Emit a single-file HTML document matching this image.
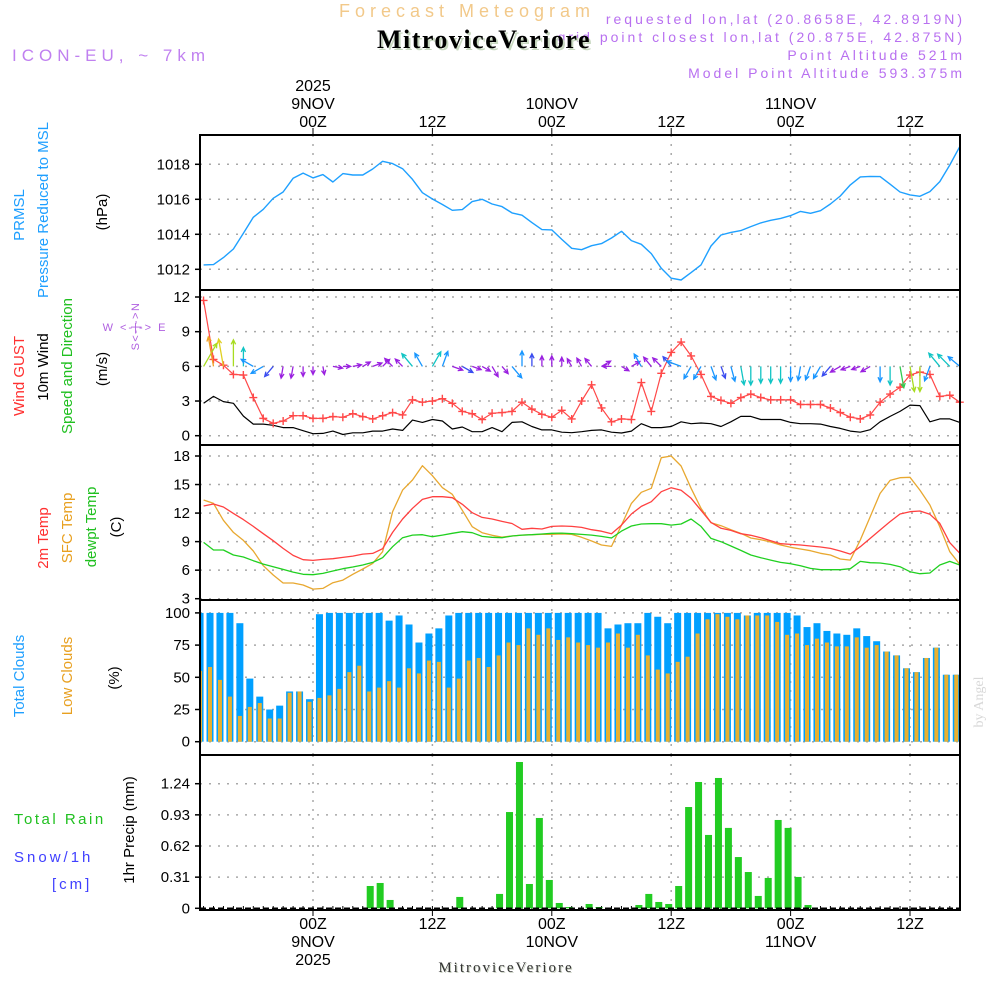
<!DOCTYPE html>
<html><head><meta charset="utf-8">
<style>
html,body{margin:0;padding:0;background:#fff;}
svg{display:block;}
text{font-family:"Liberation Sans",sans-serif;}
</style></head>
<body>
<svg id="chart" width="1000" height="1000" viewBox="0 0 1000 1000" xmlns="http://www.w3.org/2000/svg">
<rect x="0" y="0" width="1000" height="1000" fill="#fff"/>
<!-- header -->
<text x="467" y="17" font-size="18" fill="#f2c98a" text-anchor="middle" letter-spacing="5">Forecast Meteogram</text>
<text x="965" y="24" font-size="14" fill="#b870f0" text-anchor="end" letter-spacing="3">requested lon,lat (20.8658E, 42.8919N)</text>
<text x="965" y="42" font-size="14" fill="#b870f0" text-anchor="end" letter-spacing="3">grid point closest lon,lat (20.875E, 42.875N)</text>
<text x="965" y="60" font-size="14" fill="#b870f0" text-anchor="end" letter-spacing="3">Point Altitude 521m</text>
<text x="965" y="78" font-size="14" fill="#b870f0" text-anchor="end" letter-spacing="3">Model Point Altitude 593.375m</text>
<text x="486" y="50" font-size="26" font-weight="bold" fill="#c8d8c0" text-anchor="middle" letter-spacing="1.5" style="font-family:'Liberation Serif',serif">MitroviceVeriore</text>
<text x="484" y="48" font-size="26" font-weight="bold" fill="#000" text-anchor="middle" letter-spacing="1.5" style="font-family:'Liberation Serif',serif">MitroviceVeriore</text>
<text x="12" y="61" font-size="17" fill="#c080f0" letter-spacing="5">ICON-EU, ~ 7km</text>

<!-- left panel titles -->
<g font-size="15">
<text transform="translate(24,215) rotate(-90)" text-anchor="middle" fill="#1e9fff">PRMSL</text>
<text transform="translate(48,210) rotate(-90)" text-anchor="middle" fill="#1e9fff">Pressure Reduced to MSL</text>
<text transform="translate(107,212) rotate(-90)" text-anchor="middle" fill="#000">(hPa)</text>
</g>
<g font-size="15">
<text transform="translate(24,376) rotate(-90)" text-anchor="middle" fill="#ff3030">Wind GUST</text>
<text transform="translate(48,367) rotate(-90)" text-anchor="middle" fill="#000">10m Wind</text>
<text transform="translate(72,366) rotate(-90)" text-anchor="middle" fill="#20c020">Speed and Direction</text>
<text transform="translate(107,369) rotate(-90)" text-anchor="middle" fill="#000">(m/s)</text>
<text x="135" y="331" font-size="11" fill="#b060e0" text-anchor="middle" letter-spacing="2">W &lt;-|-&gt; E</text>
<text transform="translate(139,326) rotate(-90)" font-size="11" fill="#b060e0" text-anchor="middle" letter-spacing="1.5">S&lt;-|-&gt;N</text>
</g>
<g font-size="15">
<text transform="translate(48,538) rotate(-90)" text-anchor="middle" fill="#ff3030">2m Temp</text>
<text transform="translate(72,528) rotate(-90)" text-anchor="middle" fill="#e8a020">SFC Temp</text>
<text transform="translate(96,527) rotate(-90)" text-anchor="middle" fill="#20c020">dewpt Temp</text>
<text transform="translate(121,527) rotate(-90)" text-anchor="middle" fill="#000">(C)</text>
</g>
<g font-size="15">
<text transform="translate(24,676) rotate(-90)" text-anchor="middle" fill="#1e9fff">Total Clouds</text>
<text transform="translate(72,676) rotate(-90)" text-anchor="middle" fill="#e8a020">Low Clouds</text>
<text transform="translate(119,678) rotate(-90)" text-anchor="middle" fill="#000">(%)</text>
</g>
<g font-size="15">
<text x="14" y="824" fill="#20c020" letter-spacing="2.5">Total   Rain</text>
<text x="14" y="862" fill="#4040ff" letter-spacing="3">Snow/1h</text>
<text x="52" y="889" fill="#4040ff" letter-spacing="3">[cm]</text>
<text transform="translate(134,830) rotate(-90)" text-anchor="middle" fill="#000">1hr Precip (mm)</text>
</g>
<text transform="translate(983,702) rotate(-90)" font-size="14" fill="#d8d8d8" text-anchor="middle" style="font-family:'Liberation Serif',serif">by Angel</text>
<text x="507" y="973" font-size="15" fill="#c8d0c0" text-anchor="middle" letter-spacing="2" style="font-family:'Liberation Serif',serif">MitroviceVeriore</text>
<text x="506" y="972" font-size="15" fill="#333" text-anchor="middle" letter-spacing="2" style="font-family:'Liberation Serif',serif">MitroviceVeriore</text>
<g id="dyn"></g>
</svg>
<script>
// ---- data (hourly, hours -11 .. 65 relative to 00Z 9NOV 2025) ----
const timeTickHours = [0, 12, 24, 36, 48, 60];
const timeTickLabels = ["00Z", "12Z", "00Z", "12Z", "00Z", "12Z"];
const dayLabels = ["9NOV", "", "10NOV", "", "11NOV", ""];
const pressure = [1012.25,1012.27,1012.67,1013.16,1014.06,1014.97,1015.43,1016.06,1016.42,1017.2,1017.5,1017.22,1017.41,1016.99,1017.47,1017.39,1017.39,1017.73,1018.17,1018.04,1017.75,1017.14,1016.38,1016.02,1015.7,1015.37,1015.41,1015.87,1016.0,1015.73,1015.58,1015.22,1015.09,1014.67,1014.27,1014.25,1013.71,1013.2,1013.12,1013.35,1013.47,1013.79,1014.17,1013.64,1013.43,1012.9,1012.06,1011.49,1011.39,1011.81,1012.25,1013.33,1013.96,1014.11,1014.21,1014.44,1014.65,1014.8,1014.91,1015.07,1015.31,1015.2,1015.35,1015.73,1016.19,1016.82,1017.28,1017.31,1017.3,1016.86,1016.42,1016.25,1016.17,1016.44,1017.01,1017.96,1019.01];
const pressureTicks = [1012, 1014, 1016, 1018];
const windGust = [11.7,6.6,6.1,5.3,5.25,3.3,1.5,1.07,1.27,1.73,1.73,1.5,1.5,1.65,1.6,1.9,1.65,1.45,1.73,2.0,1.8,3.1,2.9,3.0,3.2,2.8,2.1,1.9,1.4,1.95,2.0,2.1,2.9,2.3,1.85,1.6,2.2,1.45,3.0,4.4,2.4,1.2,1.45,1.4,4.6,2.1,5.4,7.2,8.1,6.9,5.3,3.4,3.06,2.8,3.3,3.6,3.3,3.1,3.1,3.1,2.7,2.7,2.7,2.4,2.0,1.6,1.45,1.8,2.9,3.6,4.2,5.25,5.5,5.3,3.4,3.5,2.9];
const windSpeed = [2.8,3.4,2.95,2.8,1.7,1.0,1.0,0.9,0.7,0.7,0.43,0.17,0.2,0.4,0.1,0.25,0.25,0.4,0.4,0.58,0.46,1.35,1.15,1.4,1.27,0.58,0.75,0.35,0.35,0.7,0.35,1.15,1.2,0.8,0.5,0.5,0.3,0.26,0.35,0.46,0.5,0.3,0.23,0.4,1.04,0.7,0.7,0.8,1.2,1.04,1.1,1.04,0.8,1.2,1.67,1.67,1.4,1.4,1.4,1.15,1.04,1.04,1.0,0.8,0.63,0.4,0.3,0.52,1.2,1.67,2.1,2.65,2.6,1.2,1.45,1.45,1.15];
const windDir = [30,350,350,0,0,300,240,220,190,190,180,180,170,100,90,80,60,70,45,315,315,320,330,30,20,110,120,110,120,150,140,140,0,0,0,0,0,330,330,320,60,270,120,60,330,320,315,320,290,210,210,160,160,165,170,180,180,180,180,180,190,200,210,220,240,250,250,240,180,180,170,170,180,200,320,315,310];
const windTicks = [0, 3, 6, 9, 12];
const temp2m = [12.74,12.95,12.64,11.97,11.31,10.6,9.83,9.1,8.29,7.55,7.1,7.03,7.13,7.2,7.34,7.48,7.69,7.76,8.26,9.97,11.38,12.5,13.44,13.72,13.72,13.62,12.92,12.04,11.55,11.38,11.13,10.9,10.3,10.4,10.33,10.6,10.64,10.6,10.5,10.25,10.1,9.83,10.74,11.9,12.7,13.2,14.25,14.67,14.39,13.55,12.29,11.02,10.4,10.18,9.83,9.66,9.41,9.1,8.78,8.71,8.64,8.54,8.43,8.29,8.01,7.69,8.47,9.34,10.22,11.1,11.9,12.15,12.22,11.87,10.92,8.89,7.77];
const tempSfc = [13.37,13.02,11.24,9.97,9.13,8.01,6.47,5.49,4.65,4.65,4.44,4.01,4.08,4.68,4.96,5.56,6.12,6.71,7.94,12.15,14.42,15.48,16.98,15.93,14.67,13.97,12.29,10.57,9.94,9.66,9.48,9.59,9.69,9.73,9.76,9.76,9.8,9.76,9.45,9.06,8.64,8.5,10.74,13.02,14.18,14.6,17.82,18.0,16.95,14.6,12.5,10.99,10.67,10.25,9.87,9.38,9.2,8.96,8.64,8.4,8.22,8.05,7.77,7.59,7.17,7.06,9.17,11.62,14.07,15.44,15.72,15.76,14.42,12.85,10.57,7.94,6.61];
const dewpt = [8.92,8.12,8.12,7.59,7.38,6.99,6.64,6.36,6.08,5.8,5.56,5.52,5.66,5.91,6.15,6.33,6.54,6.82,7.31,8.47,9.41,9.69,9.73,9.52,9.69,9.87,10.04,9.94,9.55,9.45,9.41,9.59,9.69,9.73,9.8,9.87,9.9,9.83,9.76,9.69,9.55,9.38,10.11,10.64,10.85,10.88,10.88,10.74,10.85,11.38,10.6,9.34,8.99,8.54,8.08,7.59,7.31,7.06,6.82,6.68,6.47,6.19,6.05,6.05,6.05,6.15,6.92,6.78,6.75,6.61,6.36,5.84,5.63,5.7,6.54,6.92,6.54];
const tempTicks = [3, 6, 9, 12, 15, 18];
const cloudTotal = [100,100,100,100,92,49,35,25,28,39,39,33,99,100,100,100,100,100,100,94,98,91,77,84,88,98,100,100,100,100,100,100,100,100,100,100,100,100,100,100,100,88,91,92,92,100,97,92,100,100,100,100,100,100,100,98,100,100,100,100,98,89,92,86,84,83,88,82,78,70,67,57,54,65,73,52,52];
const cloudLow = [55,58,48,35,20,27,30,18,18,38,39,31,34,36,41,54,59,39,42,47,42,57,53,63,62,42,49,63,65,58,67,77,75,88,83,88,79,81,77,75,73,77,84,73,83,67,56,53,62,66,84,95,99,97,95,98,98,98,93,83,84,75,80,77,74,74,81,73,75,70,67,57,54,65,73,52,52];
const cloudTicks = [0, 25, 50, 75, 100];
const precip = [0,0,0,0,0,0,0,0,0,0,0,0,0,0,0,0,0,0.222,0.252,0.083,0,0,0,0,0,0,0.113,0,0,0,0.143,0.958,1.456,0.242,0.899,0.282,0.053,0.013,0,0.043,0.013,0,0,0,0.033,0.143,0.063,0.043,0.222,1.008,1.257,0.73,1.297,0.8,0.51,0.361,0.123,0.302,0.879,0.8,0.312,0.033,0,0,0,0,0,0,0,0,0,0,0,0,0,0,0];
const precipTicks = [0, 0.31, 0.62, 0.93, 1.24];
const precipTickLabels = ["0", "0.31", "0.62", "0.93", "1.24"];
const firstHour = -11;

// ---- scales ----
const X0 = 200, X1 = 960;
function xs(h){ return 313 + 9.95*h; }
function lin(d0,d1,r0,r1){ return v => r0 + (v-d0)*(r1-r0)/(d1-d0); }
const panels = {
  pres:{top:135,bot:290,y:lin(1012,1018,269.3,164.3)},
  wind:{top:290,bot:445,y:lin(0,12,435.7,297)},
  temp:{top:445,bot:600,y:lin(3,18,598.7,456)},
  cloud:{top:600,bot:755,y:lin(0,100,741.7,612.9)},
  prec:{top:755,bot:910,y:lin(0,1.24,908.3,783.7)}
};
const NS="http://www.w3.org/2000/svg";
const dyn=document.getElementById('dyn');
function mk(tag,attrs,parent){ const e=document.createElementNS(NS,tag); for(const k in attrs) e.setAttribute(k,attrs[k]); (parent||dyn).appendChild(e); return e; }
function hourOf(i){ return firstHour+i; }

// ---- grids, axes ----
function drawPanel(key,ticks,labels,name){
  const p=panels[key];
  const g=mk('g',{});
  
  
  ticks.forEach((t,k)=>{
    const y=p.y(t);
    const gl=mk('line',{x1:X0,x2:X1,y1:y,y2:y,stroke:'#a8a8a8','stroke-width':1.5,'stroke-dasharray':'2,7'},g);
    
    
    mk('line',{x1:195,x2:X0,y1:y,y2:y,stroke:'#000','stroke-width':1.5},g);
    const tx=mk('text',{x:190,y:y+5,'font-size':15,'text-anchor':'end',fill:'#000'},g);
    tx.textContent=labels?labels[k]:String(t);
    
    
  });
  timeTickHours.forEach(h=>{
    const x=xs(h);
    const vl=mk('line',{x1:x,x2:x,y1:p.top,y2:p.bot,stroke:'#a8a8a8','stroke-width':1.5,'stroke-dasharray':'2,7'},g);
    
    
  });
  return g;
}
drawPanel('pres',pressureTicks,null,'pressure');
drawPanel('wind',windTicks,null,'wind');
drawPanel('temp',tempTicks,null,'temperature');
drawPanel('cloud',cloudTicks,null,'clouds');
drawPanel('prec',precipTicks,precipTickLabels,'precip');

// time labels top & bottom
timeTickHours.forEach((h,k)=>{
  const x=xs(h);
  mk('line',{x1:x,x2:x,y1:128,y2:135,stroke:'#000','stroke-width':1});
  mk('line',{x1:x,x2:x,y1:910,y2:916,stroke:'#000','stroke-width':1});
  const t=mk('text',{x:x,y:127,'font-size':16,'text-anchor':'middle',fill:'#000'});
  t.textContent=timeTickLabels[k];
  
  
  const b=mk('text',{x:x,y:929,'font-size':16,'text-anchor':'middle',fill:'#000'});
  b.textContent=timeTickLabels[k];
  
  
  if(dayLabels[k]){
    const d=mk('text',{x:x,y:109,'font-size':16,'text-anchor':'middle',fill:'#000'});
    d.textContent=dayLabels[k];
    
    
    const d2=mk('text',{x:x,y:947,'font-size':16,'text-anchor':'middle',fill:'#000'});
    d2.textContent=dayLabels[k];
    
    
  }
  if(k===0){
    const y1=mk('text',{x:x,y:91,'font-size':16,'text-anchor':'middle',fill:'#000'});
    y1.textContent='2025';
    
    
    const y2=mk('text',{x:x,y:965,'font-size':16,'text-anchor':'middle',fill:'#000'});
    y2.textContent='2025';
    
    
  }
});
// hourly minor ticks on bottom axis
for(let h=firstHour; h<=65; h++){
  const x=xs(h);
  if(x<X0||x>X1) continue;
  mk('line',{x1:x,x2:x,y1:906,y2:910,stroke:'#000','stroke-width':1});
}

// ---- series helpers ----
function line(arr,yf,color,name,w){
  const pts=arr.map((v,i)=>xs(hourOf(i)).toFixed(1)+','+yf(v).toFixed(1)).join(' ');
  const pl=mk('polyline',{points:pts,fill:'none',stroke:color,'stroke-width':w||1.3,'stroke-linejoin':'round'});
  
  
  return pl;
}
// pressure
line(pressure,panels.pres.y,'#1ea0ff','pressure-line',1.4);
// wind speed
line(windSpeed,panels.wind.y,'#000','wind-speed-line',1.2);
// gust line + markers
line(windGust,panels.wind.y,'#ff4848','wind-gust-line',1.2);
windGust.forEach((v,i)=>{
  const x=xs(hourOf(i)), y=panels.wind.y(v);
  const m=mk('path',{d:`M${x-4},${y}H${x+4}M${x},${y-4}V${y+4}`,stroke:'#ff4848','stroke-width':1.4});
  
  
});
// wind direction arrows
function arrowColor(s){
  if(s<0.75) return '#9a20e0';
  if(s<1.0) return '#3a4cf0';
  if(s<1.3) return '#1896ff';
  if(s<1.8) return '#10c4c4';
  if(s<2.3) return '#30cc50';
  if(s<2.85) return '#a8dc20';
  if(s<3.2) return '#e0d020';
  return '#f0a020';
}
windDir.forEach((d,i)=>{
  const x=xs(hourOf(i)), y=panels.wind.y(6);
  const s=windSpeed[i];
  const len=Math.min(30,7+7*s);
  const a=d*Math.PI/180;
  const tx=x+len*Math.sin(a), ty=y-len*Math.cos(a);
  const hl=5, ha=0.45;
  const b1x=tx-hl*Math.sin(a-ha), b1y=ty+hl*Math.cos(a-ha);
  const b2x=tx-hl*Math.sin(a+ha), b2y=ty+hl*Math.cos(a+ha);
  const ar=mk('path',{d:`M${x.toFixed(1)},${y.toFixed(1)}L${tx.toFixed(1)},${ty.toFixed(1)}M${b1x.toFixed(1)},${b1y.toFixed(1)}L${tx.toFixed(1)},${ty.toFixed(1)}L${b2x.toFixed(1)},${b2y.toFixed(1)}`,stroke:arrowColor(s),'stroke-width':1.3,fill:'none'});
  
  
});
// temperatures
line(tempSfc,panels.temp.y,'#e8a830','sfc-temp-line',1.3);
line(temp2m,panels.temp.y,'#ff4040','temp-2m-line',1.3);
line(dewpt,panels.temp.y,'#20d020','dewpoint-line',1.3);
// clouds
cloudTotal.forEach((v,i)=>{
  const xc=xs(hourOf(i)-0.35);
  const y0=panels.cloud.y(0), y=panels.cloud.y(v);
  let x1=xc-3.5, x2=xc+3.5;
  x1=Math.max(x1,X0); x2=Math.min(x2,X1);
  if(x2<=x1) return;
  const r=mk('rect',{x:x1,y:y,width:x2-x1,height:y0-y,fill:'#00a0ff'});
  
  
});
cloudLow.forEach((v,i)=>{
  const xc=xs(hourOf(i)-0.35);
  const y0=panels.cloud.y(0), y=panels.cloud.y(v);
  let x1=xc-2, x2=xc+2;
  x1=Math.max(x1,X0); x2=Math.min(x2,X1);
  if(x2<=x1) return;
  const r=mk('rect',{x:x1,y:y,width:x2-x1,height:y0-y,fill:'#e8b030'});
  
  
});
// precip
precip.forEach((v,i)=>{
  if(v<=0) return;
  const xc=xs(hourOf(i)-0.25);
  const y0=panels.prec.y(0), y=panels.prec.y(v);
  const r=mk('rect',{x:xc-3.5,y:y,width:7,height:y0-y,fill:'#22cc22'});
  
  
});
mk('line',{x1:X0,x2:X1,y1:panels.prec.y(0),y2:panels.prec.y(0),stroke:'#000','stroke-width':1.5,'stroke-dasharray':'6,3'});

// panel borders
Object.keys(panels).forEach(k=>{
  const p=panels[k];
  const r=mk('rect',{x:X0,y:p.top,width:X1-X0,height:p.bot-p.top,fill:'none',stroke:'#000','stroke-width':2});
  
  
});
</script>
</body></html>
